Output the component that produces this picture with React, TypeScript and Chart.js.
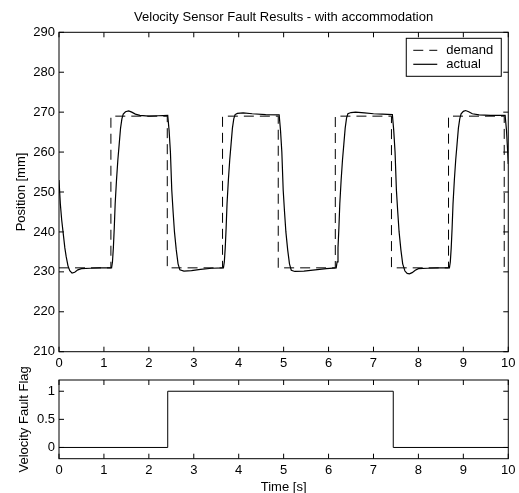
import React, { useEffect, useRef } from "react";
import { Chart, registerables } from "chart.js";

Chart.register(...registerables);

const TITLE = "Velocity Sensor Fault Results - with accommodation";
const POS_LABEL = "Position [mm]";
const FLAG_LABEL = "Velocity Fault Flag";
const TIME_LABEL = "Time [s]";

const X_TICKS = [0, 1, 2, 3, 4, 5, 6, 7, 8, 9, 10];
const POS_TICKS = [210, 220, 230, 240, 250, 260, 270, 280, 290];
const FLAG_TICKS = [0, 0.5, 1];

const DEMAND_TIME = [0, 1.155, 2.41, 3.64, 4.88, 6.15, 7.4, 8.67, 9.91, 10];
const DEMAND_POS = [231, 269, 231, 269, 231, 269, 231, 269, 231, 231];

const ACTUAL_TIME = [
  0, 0.03, 0.06, 0.09, 0.13, 0.16, 0.2, 0.24, 0.29, 0.35, 0.42, 0.5, 0.7, 0.9, 1.17,
  1.19, 1.21, 1.23, 1.25, 1.28, 1.31, 1.34, 1.37, 1.4, 1.43, 1.48, 1.55, 1.62, 1.7, 1.8, 2.0, 2.2, 2.42,
  2.45, 2.48, 2.51, 2.54, 2.57, 2.61, 2.65, 2.69, 2.78, 2.95, 3.15, 3.4, 3.66,
  3.68, 3.7, 3.72, 3.74, 3.77, 3.8, 3.83, 3.86, 3.89, 3.92, 3.97, 4.1, 4.3, 4.6, 4.9,
  4.93, 4.96, 4.99, 5.02, 5.05, 5.09, 5.13, 5.17, 5.25, 5.45, 5.7, 5.95, 6.17,
  6.19, 6.21, 6.23, 6.25, 6.28, 6.31, 6.34, 6.37, 6.4, 6.43, 6.5, 6.6, 6.8, 7.0, 7.2, 7.42,
  7.45, 7.48, 7.51, 7.54, 7.57, 7.61, 7.65, 7.7, 7.75, 7.8, 7.86, 7.93, 8.0, 8.2, 8.45, 8.69,
  8.71, 8.73, 8.75, 8.77, 8.8, 8.83, 8.86, 8.89, 8.92, 8.95, 9.0, 9.05, 9.12, 9.2, 9.35, 9.6, 9.93,
  9.96, 9.98, 10,
];
const ACTUAL_POS = [
  253, 247, 243, 240, 236, 233.8, 231.5, 230.3, 229.7, 229.9, 230.5, 230.8, 230.9, 231, 231,
  232.5, 236, 241, 247, 253, 258, 262, 266, 268.3, 269.5, 270.1, 270.3, 270, 269.5, 269.2, 269, 269.1, 269.2,
  265.5, 260, 250.5, 245, 240, 235.5, 232, 230.5, 230.2, 230.3, 230.6, 230.9, 231,
  232.5, 236, 241, 247, 253, 258, 262, 266, 268.3, 269.4, 269.7, 269.8, 269.6, 269.4, 269.3,
  265.5, 260, 250.5, 245, 240, 235.5, 232, 230.4, 230.1, 230.2, 230.5, 230.8, 231,
  232.5, 236, 241, 247, 253, 258, 262, 266, 268.5, 269.6, 269.9, 270, 269.8, 269.6, 269.5, 269.4,
  265.5, 260, 250.5, 245, 240, 235.5, 232, 230.2, 229.6, 229.5, 229.8, 230.4, 230.8, 230.9, 231, 231,
  232.5, 236, 241, 247, 253, 258, 262, 266, 268.3, 269.6, 270.2, 270.4, 270.1, 269.6, 269.3, 269.2, 269.2,
  265.5, 261.5, 257,
];

const FLAG_TIME = [0, 2.42, 7.44, 10];
const FLAG_VALUE = [0, 1, 0, 0];

const FONT = "'Liberation Sans', Arial, Helvetica, sans-serif";
const FS = 13;

const toXY = (xs: number[], ys: number[]) => xs.map((x, i) => ({ x, y: ys[i] }));
const fmt = (v: any) => `${v}`;

const boxPlugin = {
  id: "matlabBox",
  afterDatasetsDraw(chart: any) {
    const { ctx, chartArea: a, scales } = chart;
    ctx.save();
    ctx.setLineDash([]);
    ctx.strokeStyle = "#000";
    ctx.lineWidth = 1;
    ctx.strokeRect(a.left, a.top, a.right - a.left, a.bottom - a.top);
    const tl = 5;
    ctx.beginPath();
    for (const t of scales.x.ticks) {
      const px = scales.x.getPixelForValue(t.value);
      ctx.moveTo(px, a.bottom);
      ctx.lineTo(px, a.bottom - tl);
      ctx.moveTo(px, a.top);
      ctx.lineTo(px, a.top + tl);
    }
    for (const t of scales.y.ticks) {
      const py = scales.y.getPixelForValue(t.value);
      ctx.moveTo(a.left, py);
      ctx.lineTo(a.left + tl, py);
      ctx.moveTo(a.right, py);
      ctx.lineTo(a.right - tl, py);
    }
    ctx.stroke();
    ctx.restore();
  },
};

const legendPlugin = {
  id: "insideLegend",
  afterDraw(chart: any) {
    const { ctx, chartArea: a } = chart;
    const ds = chart.data.datasets;
    const w = 95;
    const h = 38;
    const left = a.right - 7 - w;
    const top = a.top + 6;
    ctx.save();
    ctx.fillStyle = "#fff";
    ctx.fillRect(left, top, w, h);
    ctx.strokeStyle = "#000";
    ctx.lineWidth = 1;
    ctx.setLineDash([]);
    ctx.strokeRect(left, top, w, h);
    ctx.font = `${FS}px ${FONT}`;
    ctx.textBaseline = "middle";
    ctx.textAlign = "left";
    ds.forEach((d: any, i: number) => {
      const y = top + 12 + i * 14;
      ctx.beginPath();
      ctx.setLineDash(d.borderDash || []);
      ctx.lineWidth = d.borderWidth;
      ctx.strokeStyle = d.borderColor;
      ctx.moveTo(left + 7, y);
      ctx.lineTo(left + 31, y);
      ctx.stroke();
      ctx.setLineDash([]);
      ctx.fillStyle = "#000";
      ctx.fillText(d.label, left + 40, y);
    });
    ctx.restore();
  },
};

function baseScale(min: number, max: number, ticks: number[]) {
  return {
    type: "linear" as const,
    min,
    max,
    afterBuildTicks: (s: any) => {
      s.ticks = ticks.map((v) => ({ value: v }));
    },
    grid: { display: false, drawTicks: false },
    border: { display: false },
  };
}

export default function App() {
  const topRef = useRef<HTMLCanvasElement>(null);
  const botRef = useRef<HTMLCanvasElement>(null);

  useEffect(() => {
    Chart.defaults.font.family = FONT;
    Chart.defaults.font.size = FS;
    Chart.defaults.color = "#000";

    const top = new Chart(topRef.current!, {
      type: "line",
      data: {
        datasets: [
          {
            label: "demand",
            data: toXY(DEMAND_TIME, DEMAND_POS),
            borderColor: "#000",
            borderWidth: 1,
            borderDash: [10, 6],
            stepped: "before",
            pointRadius: 0,
            fill: false,
          },
          {
            label: "actual",
            data: toXY(ACTUAL_TIME, ACTUAL_POS),
            borderColor: "#000",
            borderWidth: 1.2,
            pointRadius: 0,
            tension: 0,
            fill: false,
          },
        ],
      },
      options: {
        responsive: false,
        animation: false,
        devicePixelRatio: 1,
        layout: { padding: { left: 0, right: 10, top: 0, bottom: 0 } },
        plugins: {
          legend: { display: false },
          tooltip: { enabled: false },
          title: {
            display: true,
            fullSize: false,
            text: TITLE,
            color: "#000",
            font: { size: FS, weight: "normal" },
            padding: { top: 9.2, bottom: 7.5 },
          },
        },
        scales: {
          x: {
            ...baseScale(0, 10, X_TICKS),
            ticks: { padding: 3.5, maxRotation: 0, autoSkip: false, callback: fmt },
            afterFit: (s: any) => {
              s.height = 24.3;
            },
          },
          y: {
            ...baseScale(210, 290, POS_TICKS),
            ticks: { padding: 4, autoSkip: false, callback: fmt },
            title: {
              display: true,
              text: POS_LABEL,
              color: "#000",
              font: { size: FS },
              padding: { top: 13.7, bottom: 0 },
            },
            afterFit: (s: any) => {
              s.width = 59;
            },
          },
        },
      },
      plugins: [boxPlugin, legendPlugin],
    } as any);

    const bot = new Chart(botRef.current!, {
      type: "line",
      data: {
        datasets: [
          {
            label: "fault flag",
            data: toXY(FLAG_TIME, FLAG_VALUE),
            borderColor: "#000",
            borderWidth: 1,
            stepped: "before",
            pointRadius: 0,
            fill: false,
          },
        ],
      },
      options: {
        responsive: false,
        animation: false,
        devicePixelRatio: 1,
        layout: { padding: { left: 0, right: 10, top: 20, bottom: 0 } },
        plugins: {
          legend: { display: false },
          tooltip: { enabled: false },
          title: { display: false },
        },
        scales: {
          x: {
            ...baseScale(0, 10, X_TICKS),
            ticks: { padding: 3.5, maxRotation: 0, autoSkip: false, callback: fmt },
            title: {
              display: true,
              text: TIME_LABEL,
              color: "#000",
              font: { size: FS },
              padding: { top: 0, bottom: -2.1 },
            },
            afterFit: (s: any) => {
              s.height = 34.3;
            },
          },
          y: {
            ...baseScale(-0.2, 1.2, FLAG_TICKS),
            ticks: { padding: 4, autoSkip: false, callback: fmt },
            title: {
              display: true,
              text: FLAG_LABEL,
              color: "#000",
              font: { size: FS },
              padding: { top: 17, bottom: 0 },
            },
            afterFit: (s: any) => {
              s.width = 59;
            },
          },
        },
      },
      plugins: [boxPlugin],
    } as any);

    return () => {
      top.destroy();
      bot.destroy();
    };
  }, []);

  return (
    <div style={{ position: "absolute", left: 0, top: 0, width: 519, height: 493, background: "#fff" }}>
      <canvas
        ref={topRef}
        width={519}
        height={376}
        style={{ position: "absolute", left: 0, top: 0, width: 519, height: 376 }}
      />
      <canvas
        ref={botRef}
        width={519}
        height={133}
        style={{ position: "absolute", left: 0, top: 360, width: 519, height: 133 }}
      />
    </div>
  );
}
